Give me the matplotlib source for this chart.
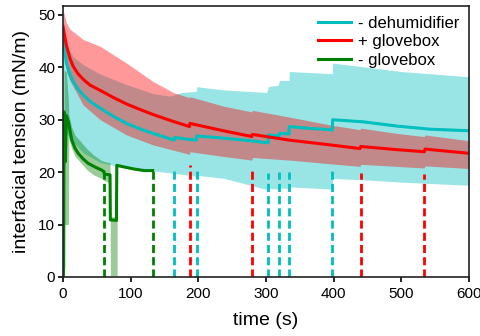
import numpy as np
import matplotlib.pyplot as plt

plt.rcParams['font.family'] = ['Liberation Sans', 'DejaVu Sans']

# - dehumidifier (cyan)
dehum_t = [0, 2, 5, 10, 15, 22, 30, 40, 55, 75, 94, 115, 133, 150, 164.5, 165, 183, 197, 197.6,
           237, 276, 303, 303.5, 319.5, 320, 334, 334.5, 360, 394.6, 398, 398.5, 444, 493, 542, 600]
dehum_y = [45.5, 43.5, 40.8, 38.8, 37.3, 35.9, 34.7, 33.5, 32.2, 30.6, 29.3, 28.2, 27.4, 26.7, 26.1, 26.6, 26.3, 26.1, 26.9,
           26.5, 26.0, 25.6, 27.1, 26.9, 27.4, 27.3, 28.7, 28.4, 28.1, 28.0, 30.0, 29.6, 28.8, 28.2, 27.9]
dehum_bt = [0, 5, 15, 30, 55, 94, 133, 158, 175, 197, 197.6, 237, 301, 303.5, 318, 320, 334, 334.5,
            395, 398, 398.5, 450, 500, 550, 600]
dehum_hi = [47.0, 44.5, 42.0, 40.5, 38.7, 36.7, 35.0, 34.5, 35.2, 35.4, 36.3, 35.7, 35.2, 36.3, 36.6, 37.5, 37.5, 39.2,
            38.8, 38.8, 40.8, 40.0, 39.2, 38.7, 38.2]
dehum_lo = [30.0, 28.0, 26.8, 25.0, 22.8, 21.5, 20.6, 20.0, 19.6, 19.2, 19.4, 18.5, 16.6, 16.9, 16.8, 17.0, 16.9, 17.2,
            16.8, 16.8, 18.8, 18.5, 18.1, 17.8, 17.5]
dehum_lo_t = [0, 3, 8, 20, 37, 62, 100, 151, 175, 197, 197.6, 262, 303, 303.5, 319.5, 320, 334, 334.5,
              395, 398, 398.5, 450, 500, 550, 600]

# + glovebox (red)
gbp_t = [0, 2, 5, 10, 15, 22, 30, 40, 55, 75, 94, 115, 133, 160, 187, 187.5, 237, 279, 280,
         335, 395, 439, 440, 493, 534, 535, 600]
gbp_y = [47.8, 46.3, 44.2, 41.8, 40.2, 38.8, 37.7, 36.6, 35.6, 34.2, 33.0, 31.9, 31.0, 29.8, 28.7, 29.3, 27.9, 26.8, 27.2,
         26.1, 25.2, 24.5, 24.9, 24.3, 23.9, 24.4, 23.6]
gbp_bt = [0, 5, 10, 30, 55, 94, 133, 163, 187, 187.5, 237, 279, 280, 335, 395, 439, 440, 493, 534, 535, 600]
gbp_hi = [51.0, 48.5, 47.3, 45.3, 44.0, 40.8, 37.3, 35.2, 34.2, 34.4, 32.6, 31.5, 31.8, 30.5, 29.0, 28.1, 28.4, 27.4,
          26.8, 27.1, 26.0]
gbp_lo = [45.0, 39.2, 37.5, 32.8, 30.0, 27.1, 25.2, 24.2, 23.4, 23.9, 23.0, 22.3, 22.8, 22.3, 21.6, 21.1, 21.5, 21.1,
          20.8, 21.2, 20.7]

# - glovebox (green)
gbm_t = [0, 1, 1.5, 2.5, 3.5, 5, 8, 13, 18, 23, 30, 37, 47, 57, 60.6, 61, 69.5, 70, 79, 79.5,
         90, 105, 120, 132.5]
gbm_y = [0.3, 1.8, 31.5, 30.0, 22.0, 30.8, 29.6, 26.1, 24.5, 23.5, 22.5, 21.7, 21.0, 20.4, 20.1, 19.6, 19.5, 10.9, 10.8, 21.3,
         21.0, 20.6, 20.3, 20.3]
gbm_bt = [1.5, 5, 8, 8.5, 13, 18, 25, 35, 45, 57, 62, 69.5, 70, 80]
gbm_hi = [39.5, 39.0, 33.5, 31.0, 28.5, 27.0, 26.0, 24.5, 23.3, 22.2, 22.0, 21.8, 11.5, 11.5]
gbm_lo = [10.0, 10.0, 10.0, 26.5, 24.5, 23.0, 22.0, 20.5, 19.5, 18.8, 18.3, 18.0, 0.3, 0.3]

# event markers (dashed)
dehum_ev = [164.5, 197.6, 302.5, 319.7, 334, 398]
dehum_ev_top = [20.4, 20.5, 19.9, 20.1, 20.1, 20.9]
gbp_ev = [187, 280, 440, 534]
gbp_ev_top = [21.4, 20.4, 19.9, 19.7]
gbm_ev = [0.5, 60.6, 132.5]
gbm_ev_top = [30.0, 19.7, 20.3]

c_dehum = '#00BFBF'
c_gbp = '#FF0000'
c_gbm = '#008000'

fig = plt.figure(figsize=(4.81, 3.36), dpi=100)
ax = fig.add_axes([63 / 481, 1 - 277 / 336, 406 / 481, 271 / 336])

ax.fill_between(dehum_bt, dehum_hi, np.interp(dehum_bt, dehum_lo_t, dehum_lo), color=c_dehum, alpha=0.4, lw=0)
ax.fill_between(gbp_bt, gbp_hi, gbp_lo, color=c_gbp, alpha=0.4, lw=0)
ax.fill_between(gbm_bt, gbm_hi, gbm_lo, color=c_gbm, alpha=0.4, lw=0)

dash = (0, (2.9, 1.5))
ax.vlines(dehum_ev, 0, dehum_ev_top, colors=c_dehum, lw=2, linestyles=[dash])
ax.vlines(gbp_ev, 0, gbp_ev_top, colors=c_gbp, lw=2, linestyles=[dash])
ax.vlines(gbm_ev, 0, gbm_ev_top, colors=c_gbm, lw=2, linestyles=[dash])

ax.plot(dehum_t, dehum_y, color=c_dehum, lw=2.2, label='- dehumidifier')
ax.plot(gbp_t, gbp_y, color=c_gbp, lw=2.2, label='+ glovebox')
ax.plot(gbm_t, gbm_y, color=c_gbm, lw=2.2, label='- glovebox')

ax.set_xlim(0, 600)
ax.set_ylim(0, 51.7)
ax.set_xticks([0, 100, 200, 300, 400, 500, 600])
ax.set_yticks([0, 10, 20, 30, 40, 50])
ax.tick_params(labelsize=11, length=3.5, width=1.2)
ax.tick_params(axis='y', pad=2)
for s in ax.spines.values():
    s.set_linewidth(1.2)
    s.set_color('#222222')
ax.set_xlabel('time (s)', fontsize=14, labelpad=8)
ax.set_ylabel('interfacial tension (mN/m)', fontsize=14, labelpad=6)
ax.legend(loc='upper right', frameon=False, fontsize=12, handlelength=2.0,
          handletextpad=0.4, labelspacing=0.2, borderaxespad=0.2)

fig.savefig('out.png', dpi=100)
